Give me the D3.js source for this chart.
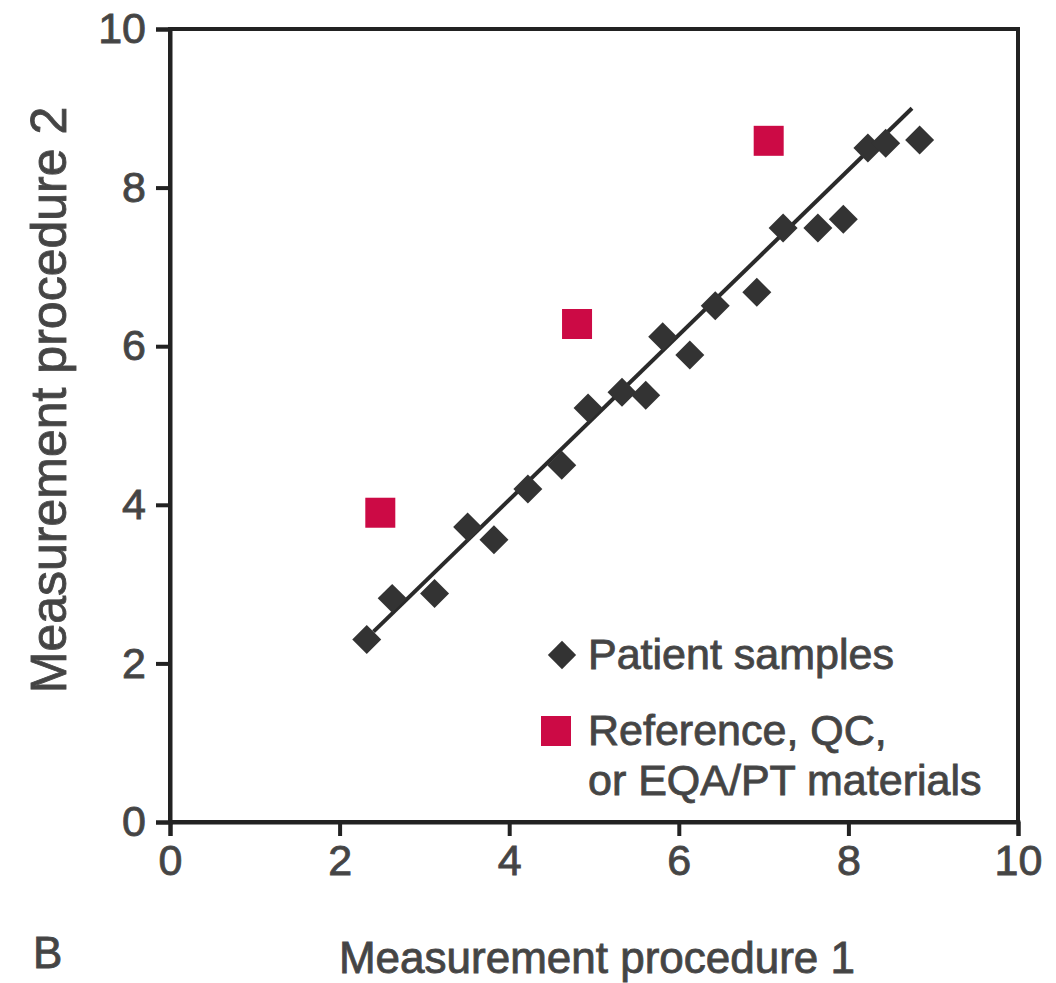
<!DOCTYPE html>
<html>
<head>
<meta charset="utf-8">
<script src="https://cdn.jsdelivr.net/npm/d3@7"></script>
<style>
  body { margin: 0; background: #fff; }
  text { font-family: "Liberation Sans", Arial, sans-serif; fill: #444; stroke: #4a4a4a; stroke-width: 0.9px; }
</style>
</head>
<body>
<div id="chart"></div>
<script>
const width = 1056;
const height = 983;

// patient samples (diamonds)
const patientX = [2.32, 2.62, 3.12, 3.51, 3.82, 4.22, 4.62, 4.93, 5.33, 5.61, 5.81, 6.13, 6.43, 6.92, 7.23, 7.64, 7.94, 8.23, 8.44, 8.84];
const patientY = [2.30, 2.82, 2.88, 3.72, 3.56, 4.20, 4.50, 5.22, 5.42, 5.38, 6.12, 5.89, 6.51, 6.68, 7.49, 7.49, 7.60, 8.50, 8.56, 8.60];

// reference / QC / EQA materials (squares)
const refX = [2.48, 4.80, 7.06];
const refY = [3.90, 6.28, 8.59];

// fitted line end points
const fitX = [2.4, 8.75];
const fitY = [2.4, 9.0];

const ticks = [0, 2, 4, 6, 8, 10];

const svg = d3
  .select("#chart")
  .append("svg")
  .attr("width", width)
  .attr("height", height);

const xScale = d3.scaleLinear().domain([0, 10]).range([170, 1018]);
const yScale = d3.scaleLinear().domain([0, 10]).range([822, 29]);

// frame
svg
  .append("rect")
  .attr("x", xScale(0))
  .attr("y", yScale(10))
  .attr("width", xScale(10) - xScale(0))
  .attr("height", yScale(0) - yScale(10))
  .attr("fill", "none")
  .attr("stroke", "#222")
  .attr("stroke-width", 4);

const xAxis = d3.axisBottom(xScale).tickValues(ticks).tickSize(14).tickPadding(8);
const yAxis = d3.axisLeft(yScale).tickValues(ticks).tickSize(14).tickPadding(10);

const gx = svg
  .append("g")
  .attr("transform", `translate(0, ${yScale(0)})`)
  .call(xAxis);

const gy = svg
  .append("g")
  .attr("transform", `translate(${xScale(0)}, 0)`)
  .call(yAxis);

[gx, gy].forEach((g) => {
  g.select(".domain").attr("stroke", "#222").attr("stroke-width", 4);
  g.selectAll(".tick line").attr("stroke", "#222").attr("stroke-width", 4);
  g.selectAll(".tick text")
    .attr("font-size", 43)
    .style("fill", "#444")
    .style("font-family", '"Liberation Sans", Arial, sans-serif');
});

// axis titles
svg
  .append("text")
  .attr("x", 597)
  .attr("y", 973)
  .attr("text-anchor", "middle")
  .attr("font-size", 44)
  .text("Measurement procedure 1");

svg
  .append("text")
  .attr("transform", "rotate(-90)")
  .attr("x", -400)
  .attr("y", 66)
  .attr("text-anchor", "middle")
  .attr("font-size", 50)
  .text("Measurement procedure 2");

svg
  .append("text")
  .attr("x", 33)
  .attr("y", 968)
  .attr("font-size", 44)
  .text("B");

// fit line
svg
  .append("line")
  .attr("x1", xScale(fitX[0]))
  .attr("y1", yScale(fitY[0]))
  .attr("x2", xScale(fitX[1]))
  .attr("y2", yScale(fitY[1]))
  .attr("stroke", "#2a2a2a")
  .attr("stroke-width", 4);

const diamond = d3.symbol().type(d3.symbolSquare).size(420);

svg
  .selectAll(".patient")
  .data(patientX)
  .enter()
  .append("path")
  .attr("class", "patient")
  .attr("d", diamond)
  .attr("transform", (d, i) => `translate(${xScale(d)}, ${yScale(patientY[i])}) rotate(45)`)
  .attr("fill", "#333");

const sq = 30;
svg
  .selectAll(".ref")
  .data(refX)
  .enter()
  .append("rect")
  .attr("class", "ref")
  .attr("x", (d) => xScale(d) - sq / 2)
  .attr("y", (d, i) => yScale(refY[i]) - sq / 2)
  .attr("width", sq)
  .attr("height", sq)
  .attr("fill", "#cc0a45");

// legend
const legend = svg.append("g");

legend
  .append("path")
  .attr("d", d3.symbol().type(d3.symbolSquare).size(400))
  .attr("transform", "translate(562, 655) rotate(45)")
  .attr("fill", "#333");

legend
  .append("text")
  .attr("x", 588)
  .attr("y", 669)
  .attr("font-size", 43)
  .text("Patient samples");

legend
  .append("rect")
  .attr("x", 541)
  .attr("y", 716)
  .attr("width", 30)
  .attr("height", 30)
  .attr("fill", "#cc0a45");

legend
  .append("text")
  .attr("x", 588)
  .attr("y", 745)
  .attr("font-size", 43)
  .text("Reference, QC,");

legend
  .append("text")
  .attr("x", 588)
  .attr("y", 795)
  .attr("font-size", 43)
  .text("or EQA/PT materials");
</script>
</body>
</html>
